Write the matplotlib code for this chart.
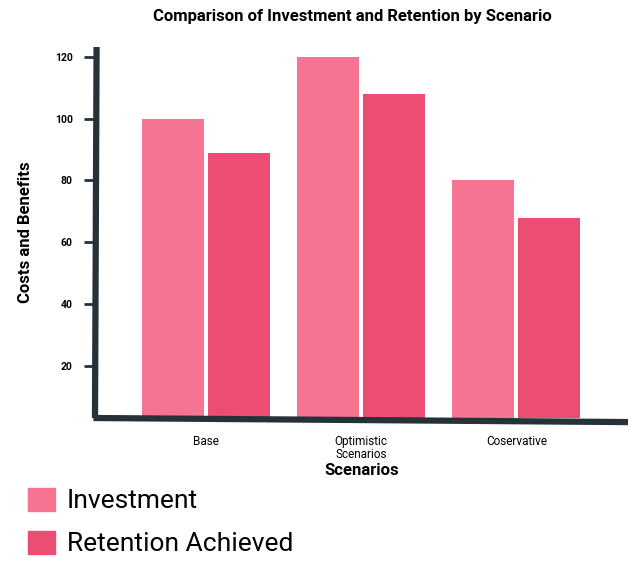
import matplotlib
matplotlib.use("Agg")
import matplotlib.pyplot as plt
from matplotlib.patches import Patch
import numpy as np

plt.rcParams['font.family'] = ['Roboto', 'DejaVu Sans']

categories = ["Base", "Optimistic\nScenarios", "Coservative"]
investment = [100, 120, 80]
retention = [89, 108, 68]
series_names = ["Investment", "Retention Achieved"]
colors = ["#F57492", "#EC4D72"]
yticks = [20, 40, 60, 80, 100, 120]

fig = plt.figure(figsize=(6.32, 5.61), dpi=100)
ax = fig.add_axes([0.1503, 0.2549, 0.8434, 0.6613])

x = np.arange(len(categories))
w = 0.40
off = 0.213
ax.bar(x - off, investment, width=w, color=colors[0], zorder=2)
ax.bar(x + off, retention, width=w, color=colors[1], zorder=2)

ax.set_xlim(-0.716, 2.72)
ax.set_ylim(3.1, 123.2)

for s in ax.spines.values():
    s.set_visible(False)

axis_col = "#263238"
# hand-drawn style axis lines
ax.plot([0.0, 0.003], [0.0, 1.0], transform=ax.transAxes, color=axis_col,
        lw=4.5, clip_on=False, solid_capstyle='butt', zorder=3)
ax.plot([-0.003, 1.0], [0.0, -0.011], transform=ax.transAxes, color=axis_col,
        lw=4.5, clip_on=False, solid_capstyle='butt', zorder=3)

ax.set_yticks(yticks)
ax.set_yticklabels([str(v) for v in yticks], fontsize=7.5, fontweight='bold')
ax.tick_params(axis='y', length=8, width=2, color=axis_col, pad=8)
ax.set_xticks(x)
ax.set_xticklabels(categories, fontsize=8.5, linespacing=1.05)
ax.tick_params(axis='x', length=0, pad=12)

ax.set_xlabel("Scenarios", fontsize=12, fontweight='bold', labelpad=1)
ax.set_ylabel("Costs and Benefits", fontsize=12, fontweight='bold', labelpad=16)
fig.text(0.558, 0.971, "Comparison of Investment and Retention by Scenario",
         ha='center', va='center', fontsize=12, fontweight='bold')

handles = [Patch(color=colors[0]), Patch(color=colors[1])]
fig.legend(handles, series_names, loc='upper left', bbox_to_anchor=(0.045, 0.131),
           frameon=False, fontsize=19, handlelength=1.0, handleheight=1.0,
           handletextpad=0.45, labelspacing=0.65, borderpad=0, borderaxespad=0)

fig.savefig("out.png", dpi=100)
